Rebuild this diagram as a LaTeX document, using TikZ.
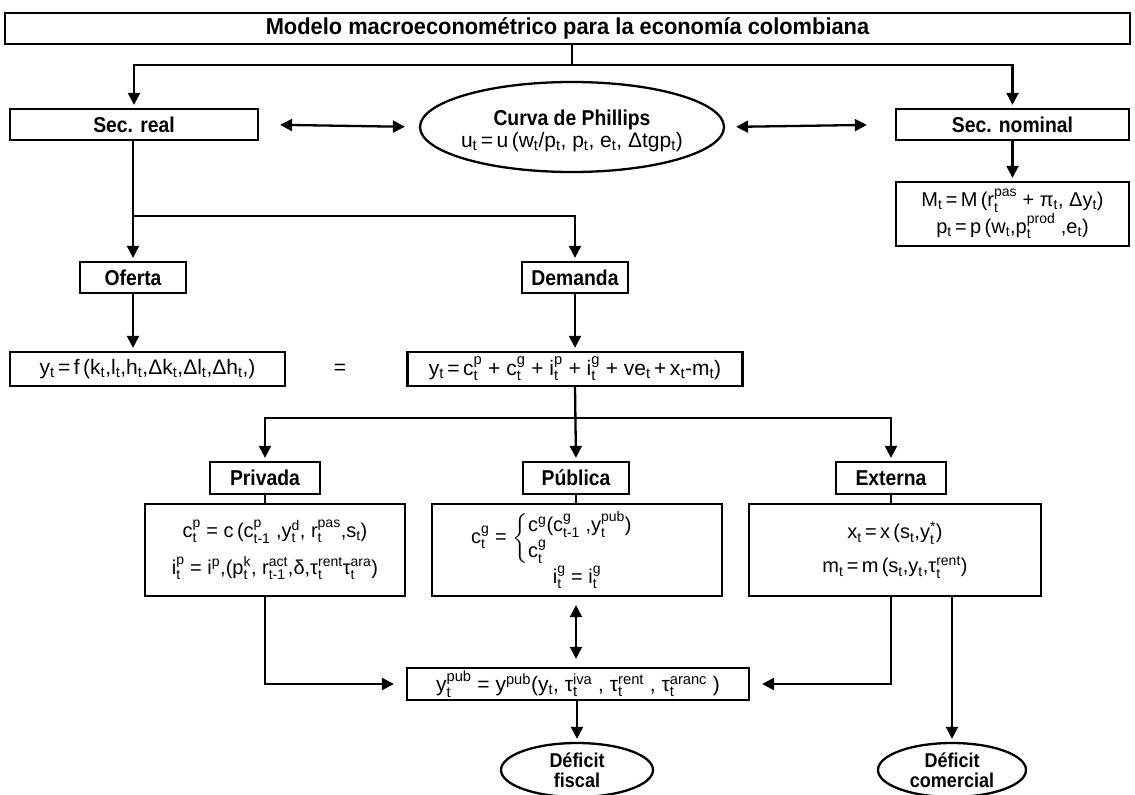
\documentclass[tikz,border=0pt]{standalone}
\usepackage{fontspec}
\usepackage{amsmath}
\setmainfont{Liberation Sans}
\newfontfamily\lbl[FakeStretch=0.9]{Liberation Sans}
\newfontfamily\ttl[FakeStretch=0.95]{Liberation Sans}
\usetikzlibrary{arrows.meta,shapes.geometric,calc}

% subscripts / superscripts set in the text font
\newcommand\lo[1]{\ensuremath{_{\text{#1}}}}
\newcommand\hi[1]{\ensuremath{^{\text{#1}}}}
\newcommand\st[2]{\ensuremath{^{\text{#1}}_{\text{#2}}}}
\newcommand\eqf{\fontsize{21}{23}\selectfont}
\newcommand\lbf{\lbl\bfseries\fontsize{21.5}{24}\selectfont}

\tikzset{
  ln/.style={line width=2.3pt},
  arr/.style={ln,-{Triangle[length=12pt,width=12pt]},shorten >=3pt},
  dbl/.style={ln,{Triangle[length=12pt,width=12pt]}-{Triangle[length=12pt,width=12pt]}},
  box/.style={draw,line width=2.3pt,inner sep=0pt,align=center},
  head/.style={box,font=\lbf},
  eqbox/.style={box,font=\eqf},
  oval/.style={draw,line width=2.3pt,ellipse,inner sep=0pt,align=center},
}

\begin{document}
\begin{tikzpicture}[x=1pt,y=-1pt]
\useasboundingbox (0,0) rectangle (1135,795);

% title and first level
\node[box,minimum width=1125pt,minimum height=31pt,font=\ttl\bfseries\fontsize{23}{25}\selectfont]
  (title) at (567.5,28.5) {Modelo macroeconométrico para la economía colombiana};
\node[head,minimum width=248pt,minimum height=31pt] (sreal) at (134,124.5) {Sec. real};
\node[oval,minimum width=304pt,minimum height=90pt] (phil) at (572,127) {};
\node[align=center,inner sep=0pt] (philtext) at (572,131)
  {{\lbf Curva de Phillips}\\[1pt]
   {\eqf u\lo{t}\,=\,u\,(w\lo{t}/p\lo{t}, p\lo{t}, e\lo{t}, Δtgp\lo{t})}};
\node[head,minimum width=233pt,minimum height=31pt] (snom) at (1012.5,124.5) {Sec. nominal};
\node[eqbox,minimum width=233pt,minimum height=64pt,font=\fontsize{20}{24}\selectfont] (mbox) at (1012.5,214)
  {M\lo{t}\,=\,M\,(r\st{pas}{t} + π\lo{t}, Δy\lo{t})\\
   p\lo{t}\,=\,p\,(w\lo{t},p\st{prod}{t} ,e\lo{t})};

% supply and demand
\node[head,minimum width=106pt,minimum height=31pt] (oferta) at (133,277.5) {Oferta};
\node[head,minimum width=106pt,minimum height=31pt] (demanda) at (575,277.5) {Demanda};
\node[eqbox,minimum width=275pt,minimum height=34pt] (eqL) at (147.5,369)
  {y\lo{t}\,=\,f\,(k\lo{t},l\lo{t},h\lo{t},Δk\lo{t},Δl\lo{t},Δh\lo{t},)};
\node[font=\eqf] (eqsign) at (340,369) {=};
\node[eqbox,minimum width=335pt,minimum height=34pt] (eqR) at (575,369)
  {y\lo{t}\,=\,c\st{p}{t} + c\st{g}{t} + i\st{p}{t} + i\st{g}{t} + ve\lo{t}\,+\,x\lo{t}-m\lo{t})};

% components of demand
\node[head,minimum width=110pt,minimum height=32pt] (privada) at (265,478) {Privada};
\node[head,minimum width=106pt,minimum height=32pt] (publica) at (576,478) {Pública};
\node[head,minimum width=110pt,minimum height=32pt] (externa) at (891,478) {Externa};

\node[eqbox,minimum width=260pt,minimum height=92pt,font=\fontsize{20}{22}\selectfont] (eqP) at (275,550)
  {c\st{p}{t} = c\,(c\st{p}{t-1} ,y\st{d}{t}, r\st{pas}{t},s\lo{t})\\[12pt]
   i\st{p}{t} = i\hi{p},(p\st{k}{t}, r\st{act}{t-1},δ,τ\st{rent}{t}τ\st{ara}{t})};
\node[eqbox,minimum width=290pt,minimum height=92pt,font=\fontsize{20}{22}\selectfont] (eqG) at (577,550)
  {$\text{c}^{\text{g}}_{\text{t}} \mathrel{\text{=}} \left\{\begin{array}{@{}l@{}}
     \text{c}^{\text{g}}\text{(}\text{c}^{\text{g}}_{\text{t-1}}\ \text{,}\text{y}^{\text{pub}}_{\text{t}}\text{)}\\[2pt]
     \text{c}^{\text{g}}_{\text{t}}\end{array}\right.$\hspace*{2.5em}\\[0pt]
   i\st{g}{t} = i\st{g}{t}};
\node[eqbox,minimum width=292pt,minimum height=92pt,font=\fontsize{20}{22}\selectfont] (eqX) at (895,550)
  {x\lo{t}\,=\,x\,(s\lo{t},y\st{*}{t})\\[12pt]
   m\lo{t}\,=\,m\,(s\lo{t},y\lo{t},τ\st{rent}{t})};

% public revenue and deficits
\node[eqbox,minimum width=342pt,minimum height=32pt] (ypub) at (578,684)
  {y\st{pub}{t} = y\hi{pub}(y\lo{t}, τ\st{iva}{t} , τ\st{rent}{t} , τ\st{aranc}{t} )};
\node[oval,minimum width=152pt,minimum height=54pt,font=\lbl\bfseries\fontsize{20}{20}\selectfont]
  (dfis) at (577,770) {Déficit\\fiscal};
\node[oval,minimum width=148pt,minimum height=54pt,font=\lbl\bfseries\fontsize{20}{20}\selectfont]
  (dcom) at (952,770) {Déficit\\comercial};

% connectors: top level
\coordinate (tb) at (572,65);
\draw[ln] (title.south -| tb) -- (tb);
\draw[arr] (tb) -| (sreal.north);
\draw[arr] (tb) -| (snom.north);
\draw[dbl,shorten <=21pt,shorten >=14pt] (sreal.east) -- (phil.west);
\draw[dbl,shorten <=11pt,shorten >=28pt] (phil.east) -- (snom.west);
\draw[arr] (snom.south) -- (mbox.north);

% connectors: real sector
\coordinate (h1) at (0,216);
\draw[arr] (sreal.south -| oferta.north) -- (oferta.north);
\draw[arr] (oferta.north |- h1) -| (demanda.north);
\draw[arr] (oferta.south) -- (oferta.south |- eqL.north);
\draw[arr] (demanda.south) -- (eqR.north);

% connectors: demand components
\coordinate (h2) at (0,418);
\draw[ln] (eqR.south) -- (eqR.south |- h2);
\draw[arr] (eqR.south |- h2) -| (privada.north);
\draw[arr] (eqR.south |- h2) -| (externa.north);
\draw[arr] (eqR.south) -- (publica.north);
\draw[ln] (privada.south) -- (privada.south |- eqP.north);
\draw[ln] (publica.south) -- (publica.south |- eqG.north);
\draw[ln] (externa.south) -- (externa.south |- eqX.north);

% connectors: public revenue and deficits
\draw[dbl,shorten <=8pt,shorten >=8pt] (publica.south |- eqG.south) -- (publica.south |- ypub.north);
\draw[arr,shorten >=12pt] (privada.south |- eqP.south) |- (ypub.west);
\draw[arr,shorten >=12pt] (externa.south |- eqX.south) |- (ypub.east);
\draw[arr] (dcom.north |- eqX.south) -- (dcom.north);
\draw[arr] (dfis.north |- ypub.south) -- (dfis.north);
\end{tikzpicture}
\end{document}
